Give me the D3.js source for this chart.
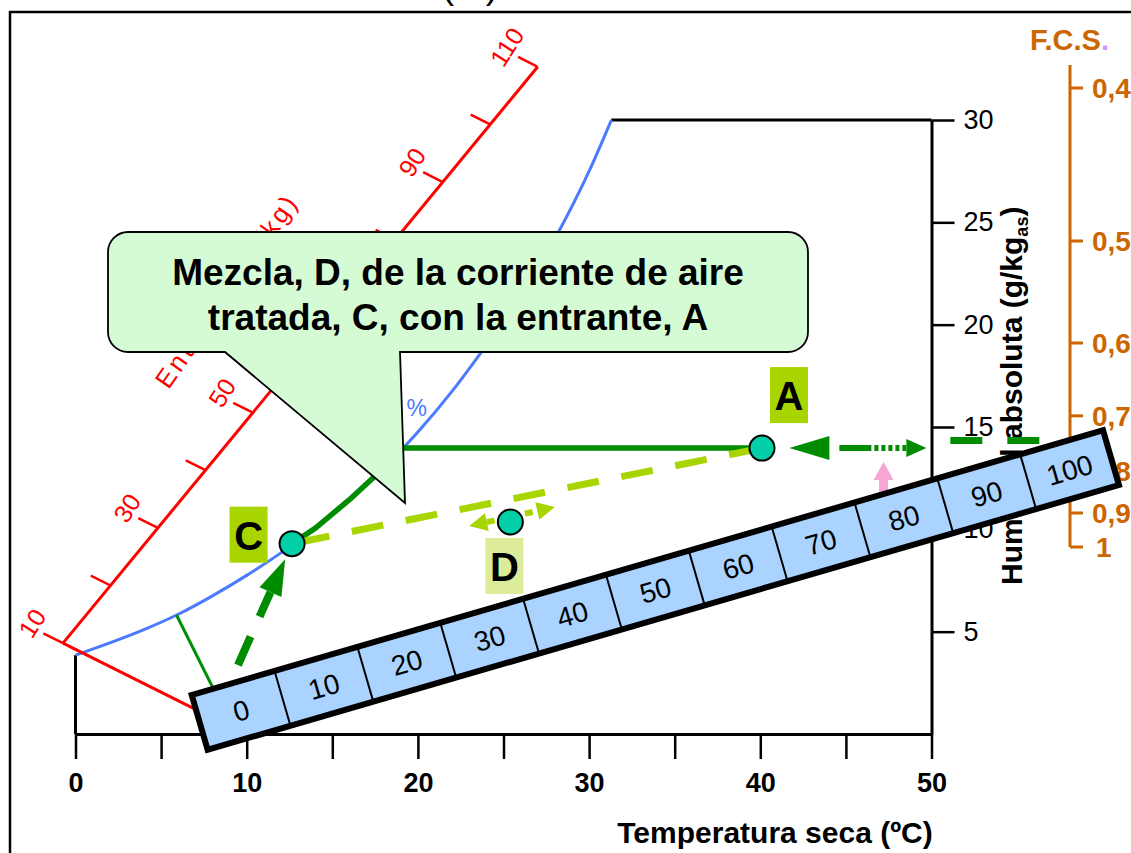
<!DOCTYPE html>
<html><head><meta charset="utf-8">
<script src="https://cdn.jsdelivr.net/npm/d3@7"></script>
<style>html,body{margin:0;padding:0;background:#fff;}svg{display:block;font-family:"Liberation Sans",Arial,sans-serif;}</style>
</head><body><svg id="c" width="1131" height="853"></svg>
<script>
// ---------- data ----------
const satT = [0,2,4,6,8,10,12,14,16,18,20,22,24,26,28,30,31.3];
const satW = [3.85,4.45,5.1,5.85,6.75,7.75,8.85,10.05,11.45,13.0,14.75,16.75,19.0,21.4,24.2,27.5,30];
const xTicks = [0,5,10,15,20,25,30,35,40,45,50];
const xLabels = [0,10,20,30,40,50];
const yTicks = [5,10,15,20,25,30];
const fcsTicks = [0.4,0.5,0.6,0.7,0.8,0.9,1];
const fcsLabels = ["0,4","0,5","0,6","0,7","0,8","0,9","1"];
const hTicks = [10,20,30,40,50,60,70,80,90,100,110];
const hLabels = [10,30,50,70,90,110];
const rulerLabels = [0,10,20,30,40,50,60,70,80,90,100];
const pointNames = ["A","C","D"];
const pointT = [40.1,12.65,25.4];
const pointW = [13.97,9.3,10.36];
const arrowDT = [23.0,28.0];      // D mixing arrow
const arrowDW = [10.16,11.09];
const arrowAT = [41.7,49.7];      // arrow right of A
const arrowAW = [13.97,13.97];
const dashT = [51.1,57.5];        // dashes further right
const dashW = [14.34,14.34];
const pinkT = 47.2, pinkW = 13.29;
const wetStartT = 5.9;            // thin green line start on saturation
const hAxisStart = {T:-0.73,W:4.44}, hAxisEnd = {T:27.0,W:32.6};

// ---------- setup ----------
const svg = d3.select("#c");
const x = d3.scaleLinear().domain([0,50]).range([75.5,931.5]);
const y = d3.scaleLinear().domain([0,30]).range([734,120]);
const satAt = d3.scaleLinear().domain(satT).range(satW);
const satInv = d3.scaleLinear().domain(satW).range(satT);
const RED="#ff0000", BLUE="#4a7bff", GREEN="#008c00", YG="#a8d400", ORANGE="#cc6600";
const FF='"Liberation Sans",Arial,sans-serif';

function head(g, tip, dir, len, hw, color){
  const bx=tip[0]-dir[0]*len, by=tip[1]-dir[1]*len, nx=-dir[1], ny=dir[0];
  g.append("path").attr("d",`M${tip[0]},${tip[1]}L${bx+nx*hw},${by+ny*hw}L${bx-nx*hw},${by-ny*hw}Z`).attr("fill",color);
  return [bx,by];
}
function unit(a,b){const dx=b[0]-a[0],dy=b[1]-a[1],l=Math.hypot(dx,dy);return [dx/l,dy/l];}

// frame
svg.append("rect").attr("x",10).attr("y",12).attr("width",1300).attr("height",1000)
  .attr("fill","none").attr("stroke","#000").attr("stroke-width",2.5);
svg.append("text").attr("x",470).attr("y",-2).attr("text-anchor","middle").attr("font-size",38).text("(III)");

// ---------- axes ----------
const gx = svg.append("g").attr("transform",`translate(0,${y(0)})`)
  .call(d3.axisBottom(x).tickValues(xTicks).tickSize(25).tickSizeOuter(0).tickPadding(14)
  .tickFormat(d=>xLabels.includes(d)?d:""));
gx.select(".domain").attr("stroke-width",3);
gx.selectAll(".tick line").attr("stroke-width",2.5);
gx.selectAll("text").attr("font-size",27).attr("font-weight","bold").attr("font-family",FF);

const gy = svg.append("g").attr("transform",`translate(${x(50)},0)`)
  .call(d3.axisRight(y).tickValues(yTicks).tickSize(23).tickSizeOuter(0).tickPadding(9));
gy.select(".domain").attr("stroke-width",3);
gy.selectAll(".tick line").attr("stroke-width",2.5);
gy.selectAll("text").attr("font-size",27).attr("font-family",FF);

// top and left boundary
svg.append("line").attr("x1",x(satT[satT.length-1])).attr("x2",x(50)).attr("y1",y(30)).attr("y2",y(30))
  .attr("stroke","#000").attr("stroke-width",3);
svg.append("line").attr("x1",x(0)).attr("x2",x(0)).attr("y1",y(satW[0])).attr("y2",y(0))
  .attr("stroke","#000").attr("stroke-width",3);

// titles
svg.append("text").attr("x",775).attr("y",843).attr("text-anchor","middle").attr("font-size",30)
  .attr("font-weight","bold").text("Temperatura seca (ºC)");
const yt = svg.append("text").attr("transform","translate(1022,585) rotate(-90)").attr("font-size",30).attr("font-weight","bold");
yt.append("tspan").text("Humedad absoluta (g/kg");
yt.append("tspan").attr("font-size",18).attr("dy",6).text("as");
yt.append("tspan").attr("dy",-6).text(")");

// FCS axis
const fy = d3.scaleLinear().domain([1,2.5]).range([547,88]);
const fx = 1070;
svg.append("line").attr("x1",fx).attr("x2",fx).attr("y1",fy(2.575)).attr("y2",fy(1))
  .attr("stroke",ORANGE).attr("stroke-width",3);
svg.selectAll("line.ft").data(fcsTicks).join("line").attr("class","ft")
  .attr("x1",fx).attr("x2",fx+13).attr("y1",d=>fy(1/d)).attr("y2",d=>fy(1/d)).attr("stroke",ORANGE).attr("stroke-width",3);
svg.selectAll("text.fl").data(fcsTicks).join("text").attr("class","fl")
  .attr("x",(d,i)=>i===fcsTicks.length-1?1096:1092).attr("y",d=>fy(1/d)).attr("dy","0.36em")
  .attr("fill",ORANGE).attr("font-size",28).attr("font-weight","bold").text((d,i)=>fcsLabels[i]);
const ft = svg.append("text").attr("x",1030).attr("y",50).attr("font-size",29).attr("font-weight","bold").attr("fill",ORANGE);
ft.append("tspan").text("F.C.S");
ft.append("tspan").attr("fill","#cc99ff").text(".");

// ---------- saturation curve ----------
const satData = satT.map((t,i)=>({T:t,W:satW[i]}));
const line = d3.line().x(d=>x(d.T)).y(d=>y(d.W)).curve(d3.curveMonotoneX);
svg.append("path").attr("d",line(satData)).attr("fill","none").attr("stroke",BLUE).attr("stroke-width",3);
const pct = svg.append("text").attr("x",427).attr("y",416).attr("text-anchor","end").attr("font-size",23).attr("fill",BLUE);
pct.append("tspan").text("100");
pct.append("tspan").attr("dx",4).text("%");

// ---------- enthalpy scale ----------
const hScale = d3.scaleLinear().domain([10,110]).range([0,1]);
const hp0=[x(hAxisStart.T),y(hAxisStart.W)], hp1=[x(hAxisEnd.T),y(hAxisEnd.W)];
const hPos = v=>{const t=hScale(v);return [hp0[0]+(hp1[0]-hp0[0])*t, hp0[1]+(hp1[1]-hp0[1])*t];};
const td=[-0.894,-0.447], tl=22;
svg.append("line").attr("x1",hp0[0]).attr("y1",hp0[1]).attr("x2",hp1[0]).attr("y2",hp1[1]).attr("stroke",RED).attr("stroke-width",3);
svg.selectAll("line.ht").data(hTicks).join("line").attr("class","ht")
  .attr("x1",d=>hPos(d)[0]).attr("y1",d=>hPos(d)[1]).attr("x2",d=>hPos(d)[0]+td[0]*tl).attr("y2",d=>hPos(d)[1]+td[1]*tl)
  .attr("stroke",RED).attr("stroke-width",2.5);
svg.selectAll("text.hl").data(hLabels).join("text").attr("class","hl")
  .attr("transform",d=>{const p=hPos(d);return `translate(${p[0]+td[0]*tl-11},${p[1]+td[1]*tl-10}) rotate(-57)`;})
  .attr("text-anchor","middle").attr("dy","0.35em").attr("font-size",25).attr("fill",RED).text(d=>d);
// isoline of h = 10
svg.append("line").attr("x1",hp0[0]).attr("y1",hp0[1]).attr("x2",hp0[0]-td[0]*165).attr("y2",hp0[1]-td[1]*165)
  .attr("stroke",RED).attr("stroke-width",3);
svg.append("text").attr("transform","translate(161,385) rotate(-55.2)").attr("font-size",26).attr("fill",RED)
  .attr("dy","0.35em").attr("textLength",227).attr("lengthAdjust","spacing").text("Entalpía (kJ/kg)");

// thin green line from saturation
const ws=[x(wetStartT),y(satAt(wetStartT))];
svg.append("line").attr("x1",ws[0]).attr("y1",ws[1]).attr("x2",ws[0]+0.447*110).attr("y2",ws[1]+0.894*110)
  .attr("stroke",GREEN).attr("stroke-width",3);

// ---------- process lines ----------
const P = pointNames.map((n,i)=>({n,T:pointT[i],W:pointW[i],px:x(pointT[i]),py:y(pointW[i])}));
const A=P[0], C=P[1], D=P[2];
const t14 = satInv(A.W);
const gpts = [{T:C.T,W:C.W}].concat(satData.filter(d=>d.T>C.T && d.T<t14)).concat([{T:t14,W:A.W},{T:A.T,W:A.W}]);
svg.append("path").attr("d",d3.line().x(d=>x(d.T)).y(d=>y(d.W))(gpts)).attr("fill","none").attr("stroke",GREEN).attr("stroke-width",5.5);

// yellow-green dashed C -> A
svg.append("line").attr("x1",C.px).attr("y1",C.py).attr("x2",A.px).attr("y2",A.py)
  .attr("stroke",YG).attr("stroke-width",7).attr("stroke-dasharray","32,23").attr("stroke-dashoffset",-6);

// green dashed arrow into C
{
  const start=[x(9.49),y(3.37)];
  const dir=unit(start,[C.px,C.py]);
  const tip=[C.px-dir[0]*17,C.py-dir[1]*17];
  const g=svg.append("g");
  const b=head(g,tip,dir,36,12,GREEN);
  g.append("line").attr("x1",start[0]).attr("y1",start[1]).attr("x2",b[0]).attr("y2",b[1])
    .attr("stroke",GREEN).attr("stroke-width",8).attr("stroke-dasharray","31,22");
}
// D double arrow
{
  const p0=[x(arrowDT[0]),y(arrowDW[0])], p1=[x(arrowDT[1]),y(arrowDW[1])];
  const dir=unit(p0,p1), g=svg.append("g");
  const b0=head(g,p0,[-dir[0],-dir[1]],18,9,YG);
  const b1=head(g,p1,dir,18,9,YG);
  g.append("line").attr("x1",b0[0]).attr("y1",b0[1]).attr("x2",b1[0]).attr("y2",b1[1])
    .attr("stroke",YG).attr("stroke-width",6).attr("stroke-dasharray","8,5");
}
// arrow right of A
{
  const p0=[x(arrowAT[0]),y(arrowAW[0])], p1=[x(arrowAT[1]),y(arrowAW[1])];
  const g=svg.append("g");
  const b0=head(g,p0,[-1,0],40,12,GREEN);
  const b1=head(g,p1,[1,0],20,9,GREEN);
  g.append("line").attr("x1",b0[0]).attr("y1",b0[1]).attr("x2",b1[0]).attr("y2",b1[1])
    .attr("stroke",GREEN).attr("stroke-width",6).attr("stroke-dasharray","0,10,32,3,4,3,4,3,4,3,4,3,4,3,4,3");
  svg.append("line").attr("x1",x(dashT[0])).attr("y1",y(dashW[0])).attr("x2",x(dashT[1])).attr("y2",y(dashW[1]))
    .attr("stroke",GREEN).attr("stroke-width",7).attr("stroke-dasharray","32,25");
}
// pink arrow
{
  const tip=[x(pinkT),y(pinkW)], g=svg.append("g");
  const b=head(g,tip,[0,-1],18,10,"#f7a6d4");
  g.append("rect").attr("x",b[0]-4.5).attr("y",b[1]).attr("width",9).attr("height",30).attr("fill","#f7a6d4");
}

// points
svg.selectAll("circle.pt").data(P).join("circle").attr("class","pt")
  .attr("cx",d=>d.px).attr("cy",d=>d.py).attr("r",12.5).attr("fill","#00cfa8").attr("stroke","#000").attr("stroke-width",2);
const lblOff = {A:[27,-53],C:[-43.5,-9],D:[-6,44]};
const lblFill = {A:YG,C:YG,D:"#dcec9a"};
const lg = svg.selectAll("g.lbl").data(P).join("g").attr("class","lbl")
  .attr("transform",d=>`translate(${d.px+lblOff[d.n][0]},${d.py+lblOff[d.n][1]})`);
lg.append("rect").attr("x",-19).attr("y",-28).attr("width",38).attr("height",56).attr("fill",d=>lblFill[d.n]);
lg.append("text").attr("y",15).attr("text-anchor","middle").attr("font-size",40).attr("font-weight","bold").text(d=>d.n);

// ---------- callout ----------
svg.append("path").attr("d","M128,232 H788 A20,20 0 0 1 808,252 V332 A20,20 0 0 1 788,352 H400 L405,503 L225,352 H128 A20,20 0 0 1 108,332 V252 A20,20 0 0 1 128,232 Z")
  .attr("fill","#d5fbd5").attr("stroke","#000").attr("stroke-width",1.8);
const ct = svg.append("text").attr("text-anchor","middle").attr("font-size",37).attr("font-weight","bold");
ct.append("tspan").attr("x",458).attr("y",285).text("Mezcla, D, de la corriente de aire");
ct.append("tspan").attr("x",458).attr("y",330).text("tratada, C, con la entrante, A");

// ---------- ruler ----------
const rg = svg.append("g").attr("transform","translate(188,693) rotate(-16.2)");
const rb = d3.scaleBand().domain(rulerLabels).range([3,952]);
rg.append("rect").attr("x",3).attr("y",3).attr("width",949).attr("height",57).attr("fill","#aad4ff").attr("stroke","#000").attr("stroke-width",6);
rg.selectAll("line").data(rulerLabels.slice(1)).join("line").attr("x1",d=>rb(d)).attr("x2",d=>rb(d)).attr("y1",3).attr("y2",60)
  .attr("stroke","#000").attr("stroke-width",2);
rg.selectAll("text").data(rulerLabels).join("text").attr("x",d=>rb(d)+rb.bandwidth()/2).attr("y",31.5).attr("dy","0.36em")
  .attr("text-anchor","middle").attr("font-size",28).text(d=>d);
</script></body></html>
